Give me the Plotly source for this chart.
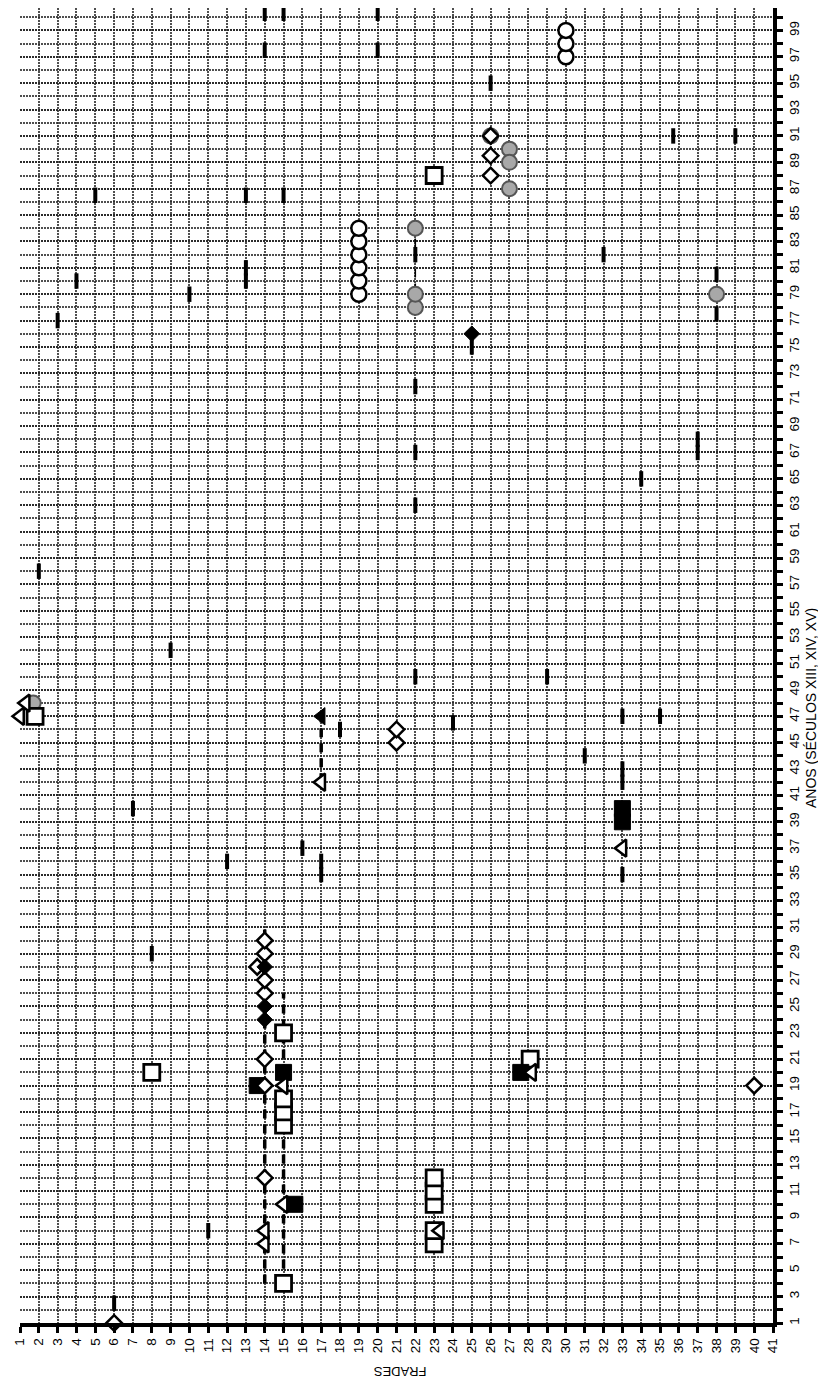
import plotly.graph_objects as go

# ---------------- data (frade, ano) ----------------
frades_ticks = list(range(1, 42))
anos_ticks = list(range(1, 100, 2))

open_diamond_frade = [6, 14, 14, 14, 14, 14, 13.6, 14, 14, 21, 21, 40, 26, 26, 26]
open_diamond_ano = [1, 12, 19, 21, 26, 27, 28, 29, 30, 45, 46, 19, 88, 89.5, 91]

filled_diamond_frade = [14, 14, 14, 25]
filled_diamond_ano = [24, 25, 28, 76]

open_square_frade = [8, 15, 15, 15, 15, 15, 23, 23, 23, 23, 23, 23, 28.1, 1.8]
open_square_ano = [20, 4, 16, 17, 18, 23, 7, 8, 10, 11, 12, 88, 21, 47]

filled_square_frade = [13.6, 15, 15.6, 27.6, 33, 33]
filled_square_ano = [19, 20, 10, 20, 39, 40]

open_triangle_frade = [14, 14, 15, 15, 17, 23.3, 28.2, 33, 1.0, 1.3]
open_triangle_ano = [7, 8, 10, 19, 42, 8, 20, 37, 47, 48]

filled_triangle_frade = [17]
filled_triangle_ano = [47]

open_circle_frade = [19, 19, 19, 19, 19, 19, 30, 30, 30]
open_circle_ano = [79, 80, 81, 82, 83, 84, 97, 98, 99]

gray_circle_frade = [22, 22, 22, 26, 27, 27, 27, 38, 0.6, 1.7]
gray_circle_ano = [78, 79, 84, 91, 90, 89, 87, 79, 49.5, 48]

dash_frade = [6, 11, 8, 12, 16, 17, 17, 7, 18, 24, 31, 33, 33, 33, 33, 35, 29, 22, 9, 2,
              22, 34, 22, 37, 37, 22, 25, 3, 38, 10, 4, 38, 13, 13, 32, 22, 5, 13, 15,
              39, 35.7, 26, 14, 20, 14, 15, 20]
dash_ano = [2.5, 8, 29, 36, 37, 35, 36, 40, 46, 46.5, 44, 47, 43, 42, 35, 47, 50, 50, 52, 58,
            63, 65, 67, 67, 68, 72, 75, 77, 77.5, 79, 80, 80.5, 80, 81, 82, 82, 86.5, 86.5, 86.5,
            91, 91, 95, 97.5, 97.5, 100.3, 100.3, 100.3]

# connecting dashed lines: (frade, start ano, end ano)
line_frade = [14, 15, 17, 22]
line_start = [4, 4, 42, 78]
line_end = [31, 26, 47, 84]

GRID = "rgba(35,35,35,0.8)"

fig = go.Figure()

for f, a0, a1 in zip(line_frade, line_start, line_end):
    fig.add_trace(go.Scatter(
        x=[f, f], y=[a0, a1], mode="lines",
        line=dict(color="black", width=3.5 if f != 22 else 1.5, dash="9px,6px"),
        showlegend=False, hoverinfo="skip"))

fig.add_trace(go.Scatter(
    x=dash_frade, y=dash_ano, mode="markers",
    marker=dict(symbol="line-ns", size=11, line=dict(color="black", width=4)),
    showlegend=False))

def add_markers(xs, ys, symbol, size, fill, lw=2.5, lc="black"):
    fig.add_trace(go.Scatter(
        x=xs, y=ys, mode="markers", cliponaxis=False,
        marker=dict(symbol=symbol, size=size, color=fill,
                    line=dict(color=lc, width=lw)),
        showlegend=False))

add_markers(gray_circle_frade, gray_circle_ano, "circle", 15, "#a8a8a8", 2, "#555")
add_markers(open_circle_frade, open_circle_ano, "circle", 15, "white", 2.5)
add_markers(open_square_frade, open_square_ano, "square", 16, "white", 2.8)
add_markers(filled_square_frade, filled_square_ano, "square", 16, "black", 1)
add_markers(open_triangle_frade, open_triangle_ano, "triangle-left", 15, "white", 2.5)
add_markers(filled_triangle_frade, filled_triangle_ano, "triangle-left", 15, "black", 1)
add_markers(open_diamond_frade, open_diamond_ano, "diamond", 12, "white", 2.5)
add_markers(filled_diamond_frade, filled_diamond_ano, "diamond", 12, "black", 1)

axis_common = dict(
    tickangle=-90, ticks="outside", ticklen=6, tickwidth=2.5, tickcolor="black",
    showline=True, linecolor="black", linewidth=3.5,
    showgrid=True, gridcolor=GRID, gridwidth=1.8, griddash="2px,1px",
    zeroline=False, tickfont=dict(size=13.5, family="Liberation Sans, Arial, sans-serif"))

fig.update_layout(
    width=826, height=1384,
    margin=dict(l=12, r=61, t=0, b=69),
    paper_bgcolor="white", plot_bgcolor="white",
    font=dict(family="Liberation Sans, Arial, sans-serif", color="black", size=12),
    xaxis=dict(range=[1, 41], tickvals=frades_ticks,
               ticktext=[str(v) for v in frades_ticks], **axis_common),
    yaxis=dict(range=[1, 100.7], side="right", tickvals=anos_ticks,
               ticktext=[str(v) for v in anos_ticks],
               minor=dict(dtick=1, tick0=0, ticks="outside", ticklen=6, tickwidth=2.5,
                          tickcolor="black", showgrid=True, gridcolor=GRID,
                          gridwidth=1.8, griddash="2px,1px"),
               **axis_common),
    annotations=[
        dict(text="FRADES", xref="paper", yref="paper", x=0.505, y=-0.044,
             showarrow=False, textangle=180, font=dict(size=13)),
        dict(text="ANOS (SÉCULOS XIII, XIV, XV)", xref="paper", yref="paper",
             x=1.063, y=0.468, showarrow=False, textangle=-90, font=dict(size=14)),
    ],
)

fig.write_html("out.html")
